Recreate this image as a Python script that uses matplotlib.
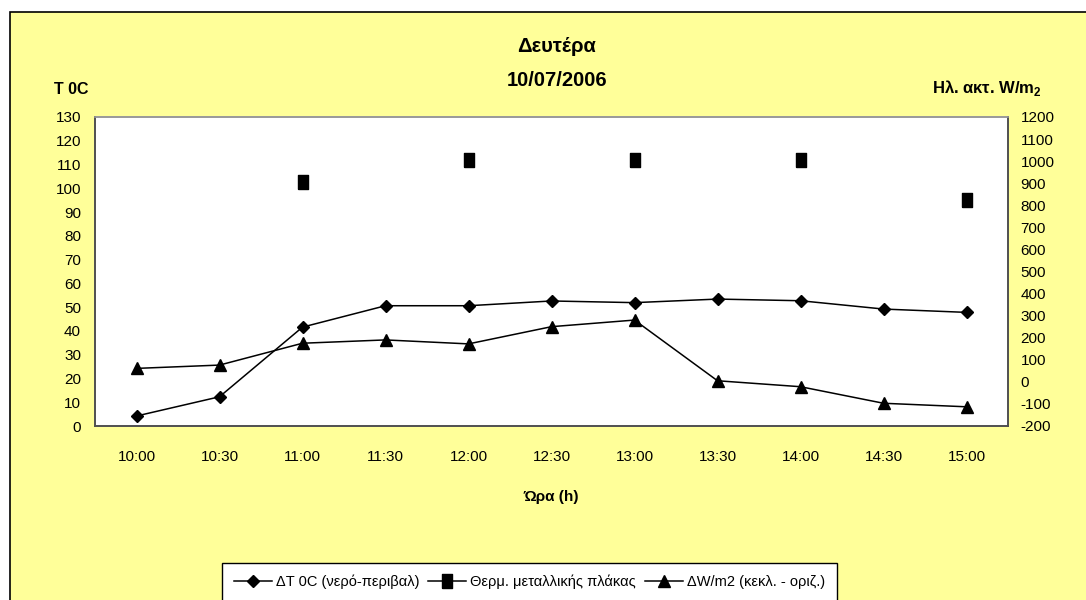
import numpy as np
import matplotlib
matplotlib.use("Agg")
import matplotlib.pyplot as plt
from matplotlib.patches import Rectangle

plt.rcParams['font.family'] = ['Liberation Sans', 'DejaVu Sans']
plt.rcParams['mathtext.fontset'] = 'custom'
plt.rcParams['mathtext.rm'] = 'Liberation Sans'
plt.rcParams['mathtext.bf'] = 'Liberation Sans:bold'
plt.rcParams['axes.unicode_minus'] = False

# measurements, Monday 10/07/2006
times = ['10:00', '10:30', '11:00', '11:30', '12:00', '12:30',
         '13:00', '13:30', '14:00', '14:30', '15:00']
dt_water = [4.2, 12.3, 41.6, 50.6, 50.6, 52.6, 51.9, 53.4, 52.7, 49.2, 47.8]
plate_temp = [np.nan, np.nan, 102.8, np.nan, 111.9, np.nan,
              111.9, np.nan, 111.9, np.nan, 95.1]
dw_rad = [61, 76, 175, 190, 172, 250, 280, 5, -22, -97, -113]

W, H = 1086, 600
fig = plt.figure(figsize=(W / 100, H / 100), dpi=100, facecolor='white')

def px(x, y):
    return x / W, 1 - y / H

# yellow chart background with black frame
bg = Rectangle(px(10, 620), 1.2, (620 - 12) / H, transform=fig.transFigure,
               facecolor='#FFFF99', edgecolor='black', linewidth=1.2, zorder=-1)
fig.patches.append(bg)

ax = fig.add_axes([95 / W, 1 - 426 / H, (1008 - 95) / W, (426 - 117) / H])
ax.set_facecolor('white')
ax2 = ax.twinx()

# narrow upright rectangle for the plate temperature points
tall_sq = [(-0.38, -0.5), (0.38, -0.5), (0.38, 0.5), (-0.38, 0.5), (-0.38, -0.5)]

x = np.arange(len(times))
l1, = ax.plot(x, dt_water, color='black', lw=1.1, marker='D', ms=6.5,
              label='ΔT 0C (νερό-περιβαλ)')
l2, = ax.plot(x, plate_temp, color='black', lw=1.1, marker=tall_sq, ms=9.5,
              label='Θερμ. μεταλλικής πλάκας')
l3, = ax2.plot(x, dw_rad, color='black', lw=1.1, marker='^', ms=9,
               label='ΔW/m2 (κεκλ. - οριζ.)')

ax.set_xlim(-0.5, len(times) - 0.5)
ax.set_ylim(0, 130)
ax.set_yticks(np.arange(0, 131, 10))
ax2.set_ylim(-200, 1200)
ax2.set_yticks(np.arange(-200, 1201, 100))
ax.set_xticks(x)
ax.set_xticklabels(times)

ax.tick_params(axis='y', length=0, pad=10, labelsize=11)
ax.tick_params(axis='x', length=0, pad=17, labelsize=11)
ax2.tick_params(axis='y', length=0, pad=9, labelsize=11)

for a in (ax, ax2):
    for s in a.spines.values():
        s.set_color('#505050')
        s.set_linewidth(1.2)
    a.spines['top'].set_color('#999999')

fig.text(*px(557, 47), 'Δευτέρα', ha='center', va='center',
         fontsize=14.5, fontweight='bold')
fig.text(*px(557, 80), '10/07/2006', ha='center', va='center',
         fontsize=14.5, fontweight='bold')
fig.text(*px(71, 90), 'T 0C', ha='center', va='center',
         fontsize=11.5, fontweight='bold')
fig.text(*px(987, 88), r'Ηλ. ακτ. W/m$_{\mathbf{2}}$', ha='center', va='center',
         fontsize=12, fontweight='bold')
fig.text(*px(551, 497), 'Ώρα (h)', ha='center', va='center',
         fontsize=11, fontweight='bold')

leg = fig.legend(handles=[l1, l2, l3], loc='upper left',
                 bbox_to_anchor=px(222, 563), ncol=3, fontsize=10.5,
                 frameon=True, fancybox=False, edgecolor='black',
                 handlelength=2.6, handletextpad=0.3, columnspacing=0.6,
                 borderpad=0.8, borderaxespad=0)
leg.get_frame().set_linewidth(1.0)
leg.get_frame().set_facecolor('white')
leg.get_frame().set_alpha(1)

fig.savefig('out.png', dpi=100)
